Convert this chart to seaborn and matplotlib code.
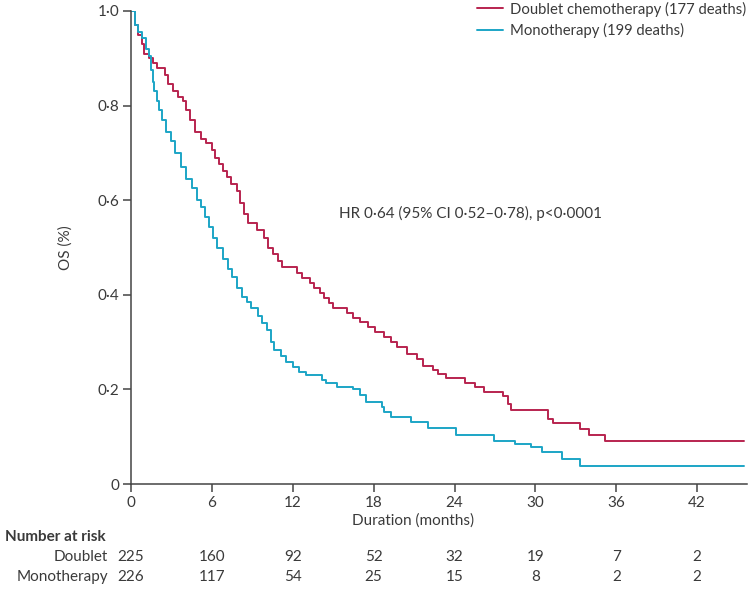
import pandas as pd
import seaborn as sns
import matplotlib.pyplot as plt

# Kaplan-Meier curves (months, OS)
doublet_t = [0, 0.3, 0.55, 0.8, 1.0, 1.3, 1.6, 1.9, 2.5, 2.75, 3.1, 3.5, 3.85, 4.1, 4.4, 4.75,
             5.2, 5.6, 6.0, 6.2, 6.5, 6.8, 7.1, 7.4, 7.85, 8.1, 8.4, 8.65, 9.35, 9.9, 10.2,
             10.5, 10.9, 11.2, 12.3, 12.7, 13.3, 13.6, 14.0, 14.3, 14.7, 15.0, 16.0, 16.5,
             17.0, 17.6, 18.1, 18.8, 19.3, 19.7, 20.5, 21.2, 21.7, 22.4, 22.8, 23.4, 24.8,
             25.5, 26.2, 27.6, 28.0, 28.2, 30.9, 31.3, 33.3, 34.0, 35.2, 45.5]
doublet_s = [1.0, 0.97, 0.95, 0.93, 0.91, 0.90, 0.89, 0.88, 0.865, 0.845, 0.83, 0.818, 0.81,
             0.79, 0.77, 0.745, 0.73, 0.72, 0.706, 0.69, 0.677, 0.662, 0.648, 0.634, 0.62,
             0.595, 0.57, 0.552, 0.537, 0.52, 0.50, 0.487, 0.472, 0.458, 0.447, 0.436, 0.425,
             0.414, 0.404, 0.393, 0.383, 0.372, 0.362, 0.352, 0.342, 0.332, 0.321, 0.311,
             0.30, 0.29, 0.274, 0.265, 0.25, 0.242, 0.232, 0.225, 0.214, 0.205, 0.195, 0.185,
             0.17, 0.157, 0.137, 0.129, 0.117, 0.104, 0.091, 0.091]

mono_t = [0, 0.3, 0.5, 0.8, 1.1, 1.3, 1.5, 1.6, 1.7, 1.9, 2.1, 2.3, 2.6, 3.0, 3.3, 3.7, 4.1,
          4.5, 4.9, 5.2, 5.5, 5.8, 6.1, 6.4, 6.8, 7.2, 7.5, 7.9, 8.2, 8.6, 8.9, 9.4, 9.7,
          10.1, 10.4, 10.6, 11.1, 11.5, 12.0, 12.5, 13.0, 14.2, 14.5, 15.3, 16.5, 17.0, 17.4,
          18.6, 18.8, 19.3, 20.8, 22.0, 24.1, 26.9, 28.5, 29.7, 30.5, 32.0, 33.3, 45.5]
mono_s = [1.0, 0.97, 0.955, 0.942, 0.92, 0.905, 0.875, 0.85, 0.83, 0.81, 0.79, 0.77, 0.745,
          0.725, 0.70, 0.67, 0.645, 0.625, 0.60, 0.585, 0.565, 0.543, 0.52, 0.50, 0.475,
          0.455, 0.437, 0.415, 0.395, 0.385, 0.373, 0.355, 0.34, 0.326, 0.30, 0.283, 0.27,
          0.258, 0.247, 0.236, 0.23, 0.22, 0.213, 0.205, 0.20, 0.188, 0.174, 0.163, 0.152,
          0.142, 0.131, 0.118, 0.104, 0.091, 0.085, 0.078, 0.068, 0.053, 0.038, 0.038]

groups = ['Doublet chemotherapy (177 deaths)', 'Monotherapy (199 deaths)']
risk_times = [0, 6, 12, 18, 24, 30, 36, 42]
risk_doublet = [225, 160, 92, 52, 32, 19, 7, 2]
risk_mono = [226, 117, 54, 25, 15, 8, 2, 2]
y_ticks = [0, 0.2, 0.4, 0.6, 0.8, 1.0]
y_ticklabels = ['0', '0·2', '0·4', '0·6', '0·8', '1·0']

df = pd.concat([
    pd.DataFrame({'t': doublet_t, 's': doublet_s, 'grp': groups[0]}),
    pd.DataFrame({'t': mono_t, 's': mono_s, 'grp': groups[1]}),
])

sns.set_style('ticks')
plt.rcParams['font.family'] = ['Lato', 'DejaVu Sans']
txt = '#3a3a3a'
fs = 11

fig = plt.figure(figsize=(7.5, 5.89), dpi=100)
ax = fig.add_axes([131 / 750, 1 - 484 / 589, 616 / 750, 473 / 589])

sns.lineplot(data=df, x='t', y='s', hue='grp', hue_order=groups,
             palette={groups[0]: '#b8244f', groups[1]: '#1ca5c6'},
             estimator=None, drawstyle='steps-post', linewidth=1.4, ax=ax, legend=False)

ax.set_xlim(0, 45.7)
ax.set_ylim(0, 1.0)
ax.set_xticks(risk_times)
ax.set_xticklabels([str(t) for t in risk_times])
ax.set_yticks(y_ticks)
ax.set_yticklabels(y_ticklabels)
sns.despine(ax=ax)
for sp in ['left', 'bottom']:
    ax.spines[sp].set_color('#444444')
    ax.spines[sp].set_linewidth(1.1)
ax.tick_params(length=6, width=1.1, color='#444444', labelsize=fs, labelcolor=txt, pad=2.5)

ax.set_xlabel('Duration (months)', fontsize=fs, color=txt)
ax.xaxis.set_label_coords((413 - 131) / 616, -0.063)
ax.set_ylabel('OS (%)', fontsize=fs, color=txt)
ax.yaxis.set_label_coords(-0.095, 0.5)

ax.text(15.4, 0.573, 'HR 0·64 (95% CI 0·52–0·78), p<0·0001', fontsize=fs, color=txt,
        va='center', ha='left')

handles = [plt.Line2D([], [], color=c, lw=1.4) for c in ['#b8244f', '#1ca5c6']]
fig.legend(handles, groups, loc='upper left', bbox_to_anchor=(476 / 750, 1.0),
           frameon=False, fontsize=10.7, handlelength=1.75, handletextpad=0.45,
           labelspacing=0.45, borderpad=0.1, borderaxespad=0, labelcolor=txt)

# number at risk table
fig.text(5 / 750, 1 - 537 / 589, 'Number at risk', fontsize=fs, fontweight='bold',
         color=txt, va='center', ha='left')
trans = ax.get_xaxis_transform()
for row_name, vals, py in [('Doublet', risk_doublet, 557), ('Monotherapy', risk_mono, 577)]:
    yy = (484 - py) / 473
    fig.text(108 / 750, 1 - py / 589, row_name, fontsize=fs, color=txt,
             va='center', ha='right')
    for t, v in zip(risk_times, vals):
        ax.text(t, yy, str(v), transform=trans, fontsize=fs, color=txt,
                va='center', ha='center', clip_on=False)

fig.savefig('out.png', dpi=100)
